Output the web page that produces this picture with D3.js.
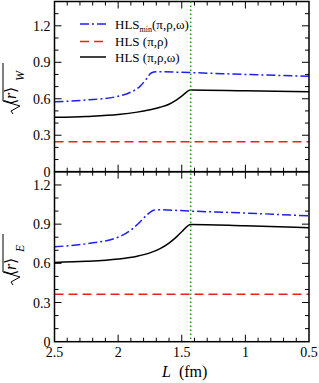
<!DOCTYPE html>
<html>
<head>
<meta charset="utf-8">
<script src="https://cdn.jsdelivr.net/npm/d3@7"></script>
<style>
  body { margin: 0; background: #fff; }
  svg { display: block; font-family: "Liberation Serif", "Times New Roman", serif; }
</style>
</head>
<body>
<div id="chart"></div>
<script>
// values, L in fm
let xTicks = [2.5, 2, 1.5, 1, 0.5];
let yTicksW = [0, 0.3, 0.6, 0.9, 1.2];
let yTicksE = [0, 0.3, 0.6, 0.9, 1.2];
let Lc = 1.43; // green dotted line

let wMinL = [2.5, 2.25, 2.0, 1.9, 1.83, 1.78, 1.74, 1.7, 1.43, 1.0, 0.5];
let wMinV = [0.575, 0.59, 0.62, 0.655, 0.70, 0.76, 0.812, 0.822, 0.815, 0.80, 0.785];
let wPRL = [2.5, 0.5];
let wPRV = [0.246, 0.246];
let wFullL = [2.5, 2.25, 2.0, 1.85, 1.75, 1.67, 1.6, 1.55, 1.5, 1.43, 1.0, 0.5];
let wFullV = [0.447, 0.455, 0.47, 0.49, 0.51, 0.53, 0.555, 0.585, 0.622, 0.672, 0.665, 0.657];

let eMinL = [2.5, 2.25, 2.0, 1.9, 1.83, 1.78, 1.73, 1.7, 1.43, 1.0, 0.5];
let eMinV = [0.727, 0.75, 0.80, 0.855, 0.915, 0.965, 1.003, 1.01, 1.0, 0.985, 0.963];
let ePRL = [2.5, 0.5];
let ePRV = [0.363, 0.363];
let eFullL = [2.5, 2.25, 2.0, 1.85, 1.75, 1.67, 1.6, 1.55, 1.5, 1.43, 1.0, 0.5];
let eFullV = [0.607, 0.615, 0.633, 0.655, 0.68, 0.713, 0.755, 0.795, 0.842, 0.898, 0.887, 0.872];

let legendLabels = ["HLS", "HLS (π,ρ)", "HLS (π,ρ,ω)"];

let width = 319, height = 383;
let left = 54.5, right = 309;

let svg = d3.select("#chart").append("svg")
  .attr("width", width)
  .attr("height", height);

let x = d3.scaleLinear().domain([2.5, 0.5]).range([left, right]);

function zip(a, b) {
  return a.map((v, i) => [v, b[i]]);
}

function panel(y, top, bottom, ticks, data, sub, cy) {
  let g = svg.append("g");
  let line = d3.line()
    .x(d => x(d[0]))
    .y(d => y(d[1]))
    .curve(d3.curveMonotoneX);

  // ticks, inward on every side
  let minorX = d3.range(0.6, 2.5, 0.1).map(v => +v.toFixed(1));
  let minorY = d3.range(0.1, y.domain()[1], 0.1).map(v => +v.toFixed(1));
  let t = g.append("g").attr("stroke", "#000").attr("stroke-width", 1);
  minorX.forEach(v => {
    let big = xTicks.some(m => Math.abs(m - v) < 1e-6);
    let len = big ? 7 : 4;
    t.append("line").attr("x1", x(v)).attr("x2", x(v)).attr("y1", bottom).attr("y2", bottom - len);
    t.append("line").attr("x1", x(v)).attr("x2", x(v)).attr("y1", top).attr("y2", top + len);
  });
  minorY.forEach(v => {
    let big = ticks.some(m => Math.abs(m - v) < 1e-6);
    let len = big ? 7 : 4;
    t.append("line").attr("x1", left).attr("x2", left + len).attr("y1", y(v)).attr("y2", y(v));
    t.append("line").attr("x1", right).attr("x2", right - len).attr("y1", y(v)).attr("y2", y(v));
  });

  g.append("g").selectAll("text")
    .data(ticks)
    .enter().append("text")
    .attr("x", left - 4)
    .attr("y", d => y(d) + 5)
    .attr("text-anchor", "end")
    .attr("font-size", 14)
    .text(d => d === 0 ? "0" : d3.format(".1f")(d));

  g.append("path").datum(zip(data[0][0], data[0][1]))
    .attr("d", line).attr("fill", "none")
    .attr("stroke", "#1f1ff0").attr("stroke-width", 1.5)
    .attr("stroke-dasharray", "9,3,2,3");
  g.append("path").datum(zip(data[1][0], data[1][1]))
    .attr("d", line).attr("fill", "none")
    .attr("stroke", "#f01f1f").attr("stroke-width", 1.5)
    .attr("stroke-dasharray", "9,5");
  g.append("path").datum(zip(data[2][0], data[2][1]))
    .attr("d", line).attr("fill", "none")
    .attr("stroke", "#000").attr("stroke-width", 1.5);

  g.append("rect")
    .attr("x", left).attr("y", top)
    .attr("width", right - left).attr("height", bottom - top)
    .attr("fill", "none").attr("stroke", "#000").attr("stroke-width", 1.5);

  // y axis label: sqrt(<r>)_sub
  let lab = g.append("g").attr("transform", "translate(12," + cy + ") rotate(-90)");
  lab.append("path")
    .attr("d", "M-26,1 L-23,-1 L-18,8 L-13,-9 L25,-9")
    .attr("fill", "none").attr("stroke", "#000").attr("stroke-width", 1);
  let tx = lab.append("text").attr("x", -17).attr("y", 4).attr("font-size", 16);
  tx.append("tspan").text("⟨");
  tx.append("tspan").attr("font-style", "italic").text("r");
  tx.append("tspan").text("⟩");
  lab.append("text").attr("x", 7).attr("y", 12).attr("font-size", 12)
    .attr("font-style", "italic").text(sub);
}

let yW = d3.scaleLinear().domain([0, 1.4]).range([171.7, 1.5]);
let yE = d3.scaleLinear().domain([0, 1.3]).range([341.7, 171.9]);

panel(yW, 1.5, 171.7, yTicksW, [[wMinL, wMinV], [wPRL, wPRV], [wFullL, wFullV]], "W", 88);
panel(yE, 171.7, 341.7, yTicksE, [[eMinL, eMinV], [ePRL, ePRV], [eFullL, eFullV]], "E", 259);

// green dotted vertical line through both panels
svg.append("line")
  .attr("x1", x(Lc)).attr("x2", x(Lc))
  .attr("y1", 1.5).attr("y2", 341.7)
  .attr("stroke", "#1aa01a").attr("stroke-width", 1.5)
  .attr("stroke-dasharray", "1.5,2.5");

// x tick labels
svg.append("g").selectAll("text")
  .data(xTicks)
  .enter().append("text")
  .attr("x", d => x(d))
  .attr("y", 357)
  .attr("text-anchor", "middle")
  .attr("font-size", 14)
  .text(d => d);

let xl = svg.append("text").attr("x", 162).attr("y", 377).attr("font-size", 16)
  .attr("xml:space", "preserve");
xl.append("tspan").attr("font-style", "italic").text("L");
xl.append("tspan").text("  (fm)");

// legend
let leg = svg.append("g");
let rows = [24, 41.5, 57];
let styles = [
  { c: "#1f1ff0", d: "9,3,2,3" },
  { c: "#f01f1f", d: "9,5" },
  { c: "#000", d: null }
];
rows.forEach((ry, i) => {
  leg.append("line")
    .attr("x1", 80).attr("x2", 106).attr("y1", ry).attr("y2", ry)
    .attr("stroke", styles[i].c).attr("stroke-width", 1.5)
    .attr("stroke-dasharray", styles[i].d);
  let t = leg.append("text").attr("x", 115).attr("y", ry + 4.5).attr("font-size", 13);
  if (i === 0) {
    t.append("tspan").text("HLS");
    t.append("tspan").attr("font-size", 8).attr("dy", 3).text("min");
    t.append("tspan").attr("dy", -3).text("(π,ρ,ω)");
  } else {
    t.text(legendLabels[i]);
  }
});
</script>
</body>
</html>
